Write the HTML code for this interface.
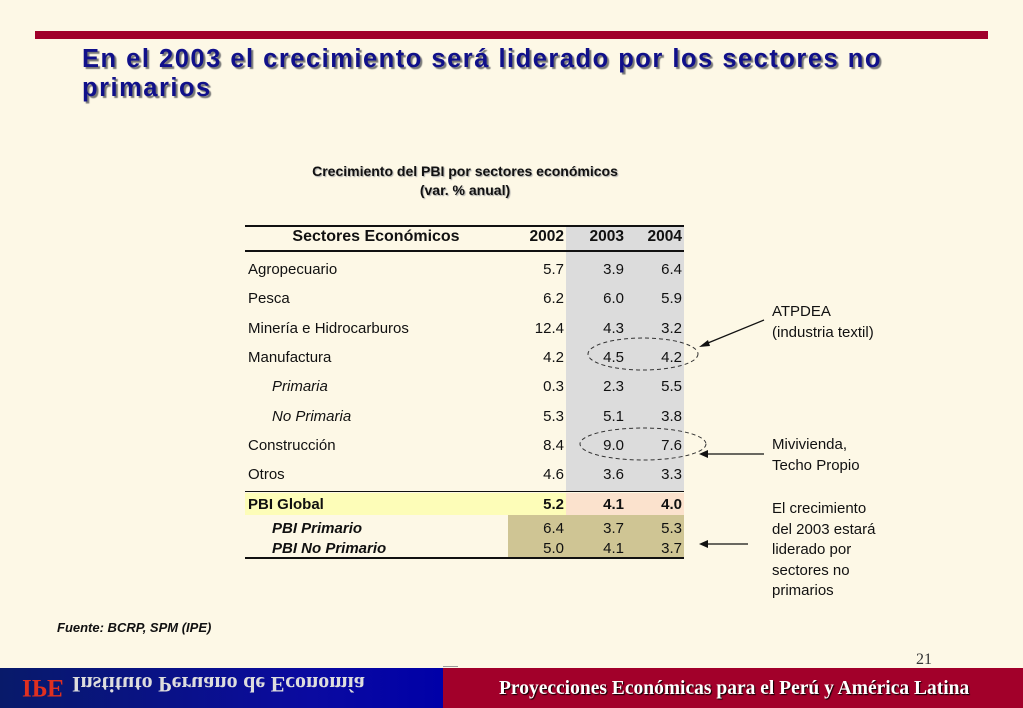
<!DOCTYPE html>
<html><head><meta charset="utf-8"><style>
body{margin:0;width:1023px;height:708px;position:relative;background:#fdf8e6;font-family:"Liberation Sans",sans-serif;overflow:hidden}
.a{position:absolute}
.title{left:82px;top:45px;font-size:25.5px;font-weight:bold;color:#10108a;line-height:29px;text-shadow:2px 2px 1px #777;letter-spacing:1.5px;white-space:nowrap}
.cap{left:245px;width:440px;text-align:center;font-size:14px;font-weight:bold;color:#111;text-shadow:1px 1px 1px #aaa}
.cell{position:absolute;font-size:15px;color:#111;line-height:18px}
.num{text-align:right;width:60px}
.note{font-size:15px;color:#111;line-height:20.5px}
</style></head><body>
<div class="a" style="left:35px;top:31px;width:953px;height:8px;background:#a0002a"></div>
<div class="a title">En el 2003 el crecimiento será liderado por los sectores no<br>primarios</div>
<div class="a cap" style="top:163px">Crecimiento del PBI por sectores económicos</div>
<div class="a cap" style="top:182px">(var. % anual)</div>

<div id="tbl">
<div class="a" style="left:566px;top:227px;width:118px;height:265px;background:#dcdcdc"></div>
<div class="a" style="left:245px;top:493px;width:321px;height:22px;background:#fdfdb8"></div>
<div class="a" style="left:566px;top:493px;width:118px;height:22px;background:#fbe2cd"></div>
<div class="a" style="left:508px;top:515px;width:176px;height:42px;background:#cfc594"></div>
<div class="a" style="left:245px;top:225px;width:439px;height:2px;background:#111"></div>
<div class="a" style="left:245px;top:250px;width:439px;height:2px;background:#111"></div>
<div class="a" style="left:245px;top:491px;width:439px;height:1px;background:#111"></div>
<div class="a" style="left:245px;top:557px;width:439px;height:2px;background:#111"></div>
</div>

<svg class="a" style="left:0;top:0" width="1023" height="708">
<ellipse cx="643" cy="354" rx="55" ry="16" fill="none" stroke="#333" stroke-dasharray="4,3"/>
<ellipse cx="643" cy="444" rx="63" ry="16" fill="none" stroke="#333" stroke-dasharray="4,3"/>
<line x1="764" y1="320" x2="703" y2="345" stroke="#111" stroke-width="1.3"/>
<polygon points="699,347 708,340 710,346" fill="#111"/>
<line x1="764" y1="454" x2="704" y2="454" stroke="#111" stroke-width="1.3"/>
<polygon points="699,454 708,450 708,458" fill="#111"/>
<line x1="748" y1="544" x2="704" y2="544" stroke="#111" stroke-width="1.3"/>
<polygon points="699,544 708,540 708,548" fill="#111"/>
</svg>

<div class="a note" style="left:772px;top:302px">ATPDEA<br>(industria textil)</div>
<div class="a note" style="left:772px;top:435px">Mivivienda,<br>Techo Propio</div>
<div class="a note" style="left:772px;top:499px">El crecimiento<br>del 2003 estará<br>liderado por<br>sectores no<br>primarios</div>
<div class="a" style="left:57px;top:620px;font-size:13px;font-weight:bold;font-style:italic;color:#111">Fuente: BCRP, SPM (IPE)</div>
<div class="a" style="left:916px;top:651px;font-size:16px;font-family:'Liberation Serif',serif;color:#333">21</div>

<div class="a" style="left:0;top:668px;width:443px;height:40px;background:linear-gradient(90deg,#081a6a,#0a0aa0 70%,#0000a8)"></div>
<div class="a" style="left:443px;top:668px;width:580px;height:40px;background:#a2002a"></div>
<div class="a" style="left:443px;top:666px;width:15px;height:1px;background:#999"></div>
<div class="a" style="left:22px;top:673px;font-family:'Liberation Serif',serif;font-weight:bold;font-size:25px;color:#e03020;transform:scaleY(-1)">IPE</div>
<div class="a" style="left:72px;top:671px;font-family:'Liberation Serif',serif;font-weight:bold;font-size:22px;color:#ddd;transform:scaleY(-1)">Instituto Peruano de Economía</div>
<div class="a" style="left:499px;top:678px;font-family:'Liberation Serif',serif;font-weight:bold;font-size:19.5px;color:#fff;text-shadow:1px 1px 1px #000;white-space:nowrap">Proyecciones Económicas para el Perú y América Latina</div>

<script>
const sectors=["Agropecuario","Pesca","Minería e Hidrocarburos","Manufactura","Primaria","No Primaria","Construcción","Otros"];
const italicRows=[false,false,false,false,true,true,false,false];
const v2002=["5.7","6.2","12.4","4.2","0.3","5.3","8.4","4.6"];
const v2003=["3.9","6.0","4.3","4.5","2.3","5.1","9.0","3.6"];
const v2004=["6.4","5.9","3.2","4.2","5.5","3.8","7.6","3.3"];
const totalLabels=["PBI Global","PBI Primario","PBI No Primario"];
const t2002=["5.2","6.4","5.0"];
const t2003=["4.1","3.7","4.1"];
const t2004=["4.0","5.3","3.7"];
const headers=["Sectores Económicos","2002","2003","2004"];
const tbl=document.getElementById('tbl');
const colRight=[564,624,682];
function mk(txt,x,y,cls,style){const d=document.createElement('div');d.className='cell '+cls;d.textContent=txt;d.style.left=x+'px';d.style.top=y+'px';if(style)d.style.cssText+=style;tbl.appendChild(d);return d;}
let h=mk(headers[0],248,228,'','width:256px;text-align:center;font-weight:bold;font-size:16px');


for(let i=1;i<4;i++){const e=mk(headers[i],colRight[i-1]-60,228,'num','font-weight:bold;font-size:15.5px');

}
sectors.forEach((s,i)=>{const y=261+i*29.3;
const l=mk(s,italicRows[i]?272:248,y,'',italicRows[i]?'font-style:italic':'');


[v2002,v2003,v2004].forEach((arr,c)=>{const e=mk(arr[i],colRight[c]-60,y,'num');

});});
const ty=[496,520,540];
totalLabels.forEach((s,i)=>{const st=i==0?'font-weight:bold':'font-weight:bold;font-style:italic';
const l=mk(s,i==0?248:272,ty[i],'',st);


[t2002,t2003,t2004].forEach((arr,c)=>{const e=mk(arr[i],colRight[c]-60,ty[i],'num',i==0?'font-weight:bold':'');

});});
</script>
</body></html>
